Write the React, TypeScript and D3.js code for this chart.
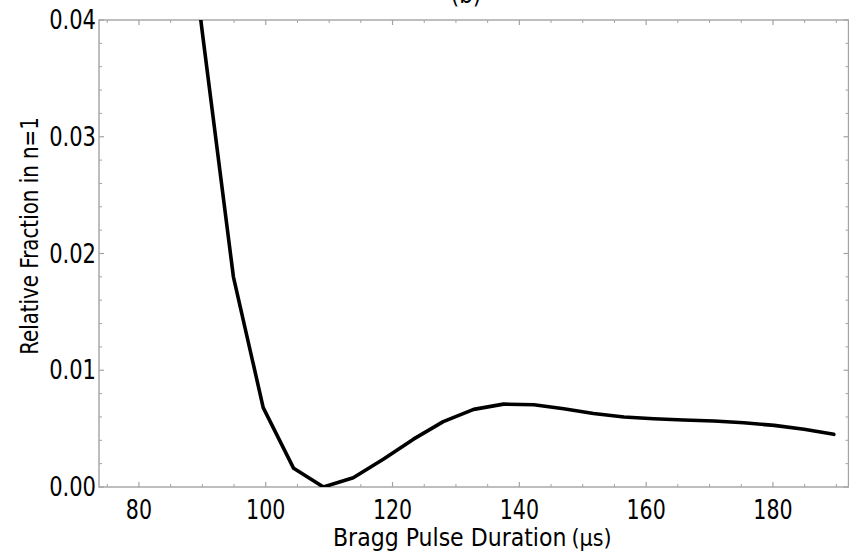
import React from "react";
import * as d3 from "d3";

// Bragg pulse duration (µs) and relative population in n=1
const durations = [
  85.4, 90.1, 94.9, 99.6, 104.4, 109.1, 113.8, 118.6, 123.3, 128.0, 132.8,
  137.5, 142.3, 147.0, 151.7, 156.5, 161.2, 165.9, 170.7, 175.4, 180.2, 184.9,
  189.6,
];
const fractions = [
  0.059, 0.0385, 0.018, 0.0068, 0.0016, 0.0, 0.0008, 0.0024, 0.0041, 0.0056,
  0.00665, 0.0071, 0.00705, 0.0067, 0.0063, 0.006, 0.00585, 0.00574, 0.00565,
  0.0055, 0.00528, 0.00494, 0.00451,
];

const xMajorTicks = [80, 100, 120, 140, 160, 180];
const yMajorTicks = [0, 0.01, 0.02, 0.03, 0.04];
const yTickLabels = ["0.00", "0.01", "0.02", "0.03", "0.04"];

const W = 849;
const H = 551;
const left = 99;
const right = 848.5;
const top = 20;
const bottom = 487;

const FONT = "'DejaVu Sans Condensed', 'DejaVu Sans', sans-serif";
const FRAME = "#a3a3a3";

export default function App() {
  const x = d3.scaleLinear().domain([73.7, 192]).range([left, left + 118.3 * 6.34]);
  const y = d3.scaleLinear().domain([0, 0.04]).range([bottom, top]);

  const pts: [number, number][] = durations.map((d, i) => [d, fractions[i]]);
  const line = d3
    .line<[number, number]>()
    .x((d) => x(d[0]))
    .y((d) => y(d[1]));

  const xMinor = d3.range(75, 192, 5).filter((v) => v % 20 !== 0);
  const yMinor = d3
    .range(0, 0.0401, 0.002)
    .filter((v) => Math.abs(v * 100 - Math.round(v * 100)) > 1e-6);

  return (
    <svg
      width={W}
      height={H}
      style={{ position: "absolute", left: 0, top: 0, background: "#fff" }}
    >
      <defs>
        <clipPath id="plotClip">
          <rect x={left} y={top} width={right - left} height={bottom - top} />
        </clipPath>
      </defs>

      <text x={466} y={3} fontFamily={FONT} fontSize={24} textAnchor="middle" fill="#000">
        (b)
      </text>

      {/* frame */}
      <rect
        x={left}
        y={top}
        width={right - left}
        height={bottom - top}
        fill="none"
        stroke={FRAME}
        strokeWidth={1.4}
      />

      {/* x ticks, bottom and top, pointing inward */}
      {xMajorTicks.map((v) => (
        <g key={"xM" + v}>
          <line x1={x(v)} x2={x(v)} y1={bottom} y2={bottom - 5} stroke={FRAME} strokeWidth={1.2} />
          <line x1={x(v)} x2={x(v)} y1={top} y2={top + 5} stroke={FRAME} strokeWidth={1.2} />
        </g>
      ))}
      {xMinor.map((v) => (
        <g key={"xm" + v}>
          <line x1={x(v)} x2={x(v)} y1={bottom} y2={bottom - 3} stroke={FRAME} strokeWidth={1} />
          <line x1={x(v)} x2={x(v)} y1={top} y2={top + 3} stroke={FRAME} strokeWidth={1} />
        </g>
      ))}

      {/* y ticks, left and right */}
      {yMajorTicks.map((v) => (
        <g key={"yM" + v}>
          <line x1={left} x2={left + 5} y1={y(v)} y2={y(v)} stroke={FRAME} strokeWidth={1.2} />
          <line x1={right} x2={right - 5} y1={y(v)} y2={y(v)} stroke={FRAME} strokeWidth={1.2} />
        </g>
      ))}
      {yMinor.map((v) => (
        <g key={"ym" + v}>
          <line x1={left} x2={left + 3} y1={y(v)} y2={y(v)} stroke={FRAME} strokeWidth={1} />
          <line x1={right} x2={right - 3} y1={y(v)} y2={y(v)} stroke={FRAME} strokeWidth={1} />
        </g>
      ))}

      {/* tick labels */}
      {xMajorTicks.map((v) => (
        <text
          key={"xl" + v}
          transform={`translate(${x(v)},519) scale(0.88,1)`}
          fontFamily={FONT}
          fontSize={26}
          textAnchor="middle"
          fill="#000"
        >
          {v}
        </text>
      ))}
      {yMajorTicks.map((v, i) => (
        <text
          key={"yl" + v}
          transform={`translate(96,${y(v) + 9}) scale(0.9,1)`}
          fontFamily={FONT}
          fontSize={26}
          textAnchor="end"
          fill="#000"
        >
          {yTickLabels[i]}
        </text>
      ))}

      {/* axis titles */}
      <text x={333} y={546} fontFamily={FONT} fontSize={24.5} fill="#000">
        Bragg Pulse Duration
        <tspan dx={5} fontSize={23}>
          (μs)
        </tspan>
      </text>
      <text
        transform="translate(38,236) rotate(-90) scale(0.9,1)"
        fontFamily={FONT}
        fontSize={24.5}
        textAnchor="middle"
        fill="#000"
      >
        Relative Fraction in n=1
      </text>

      {/* data curve */}
      <path
        d={line(pts) || ""}
        clipPath="url(#plotClip)"
        fill="none"
        stroke="#000"
        strokeWidth={3.6}
        strokeLinejoin="round"
        strokeLinecap="round"
      />
    </svg>
  );
}
